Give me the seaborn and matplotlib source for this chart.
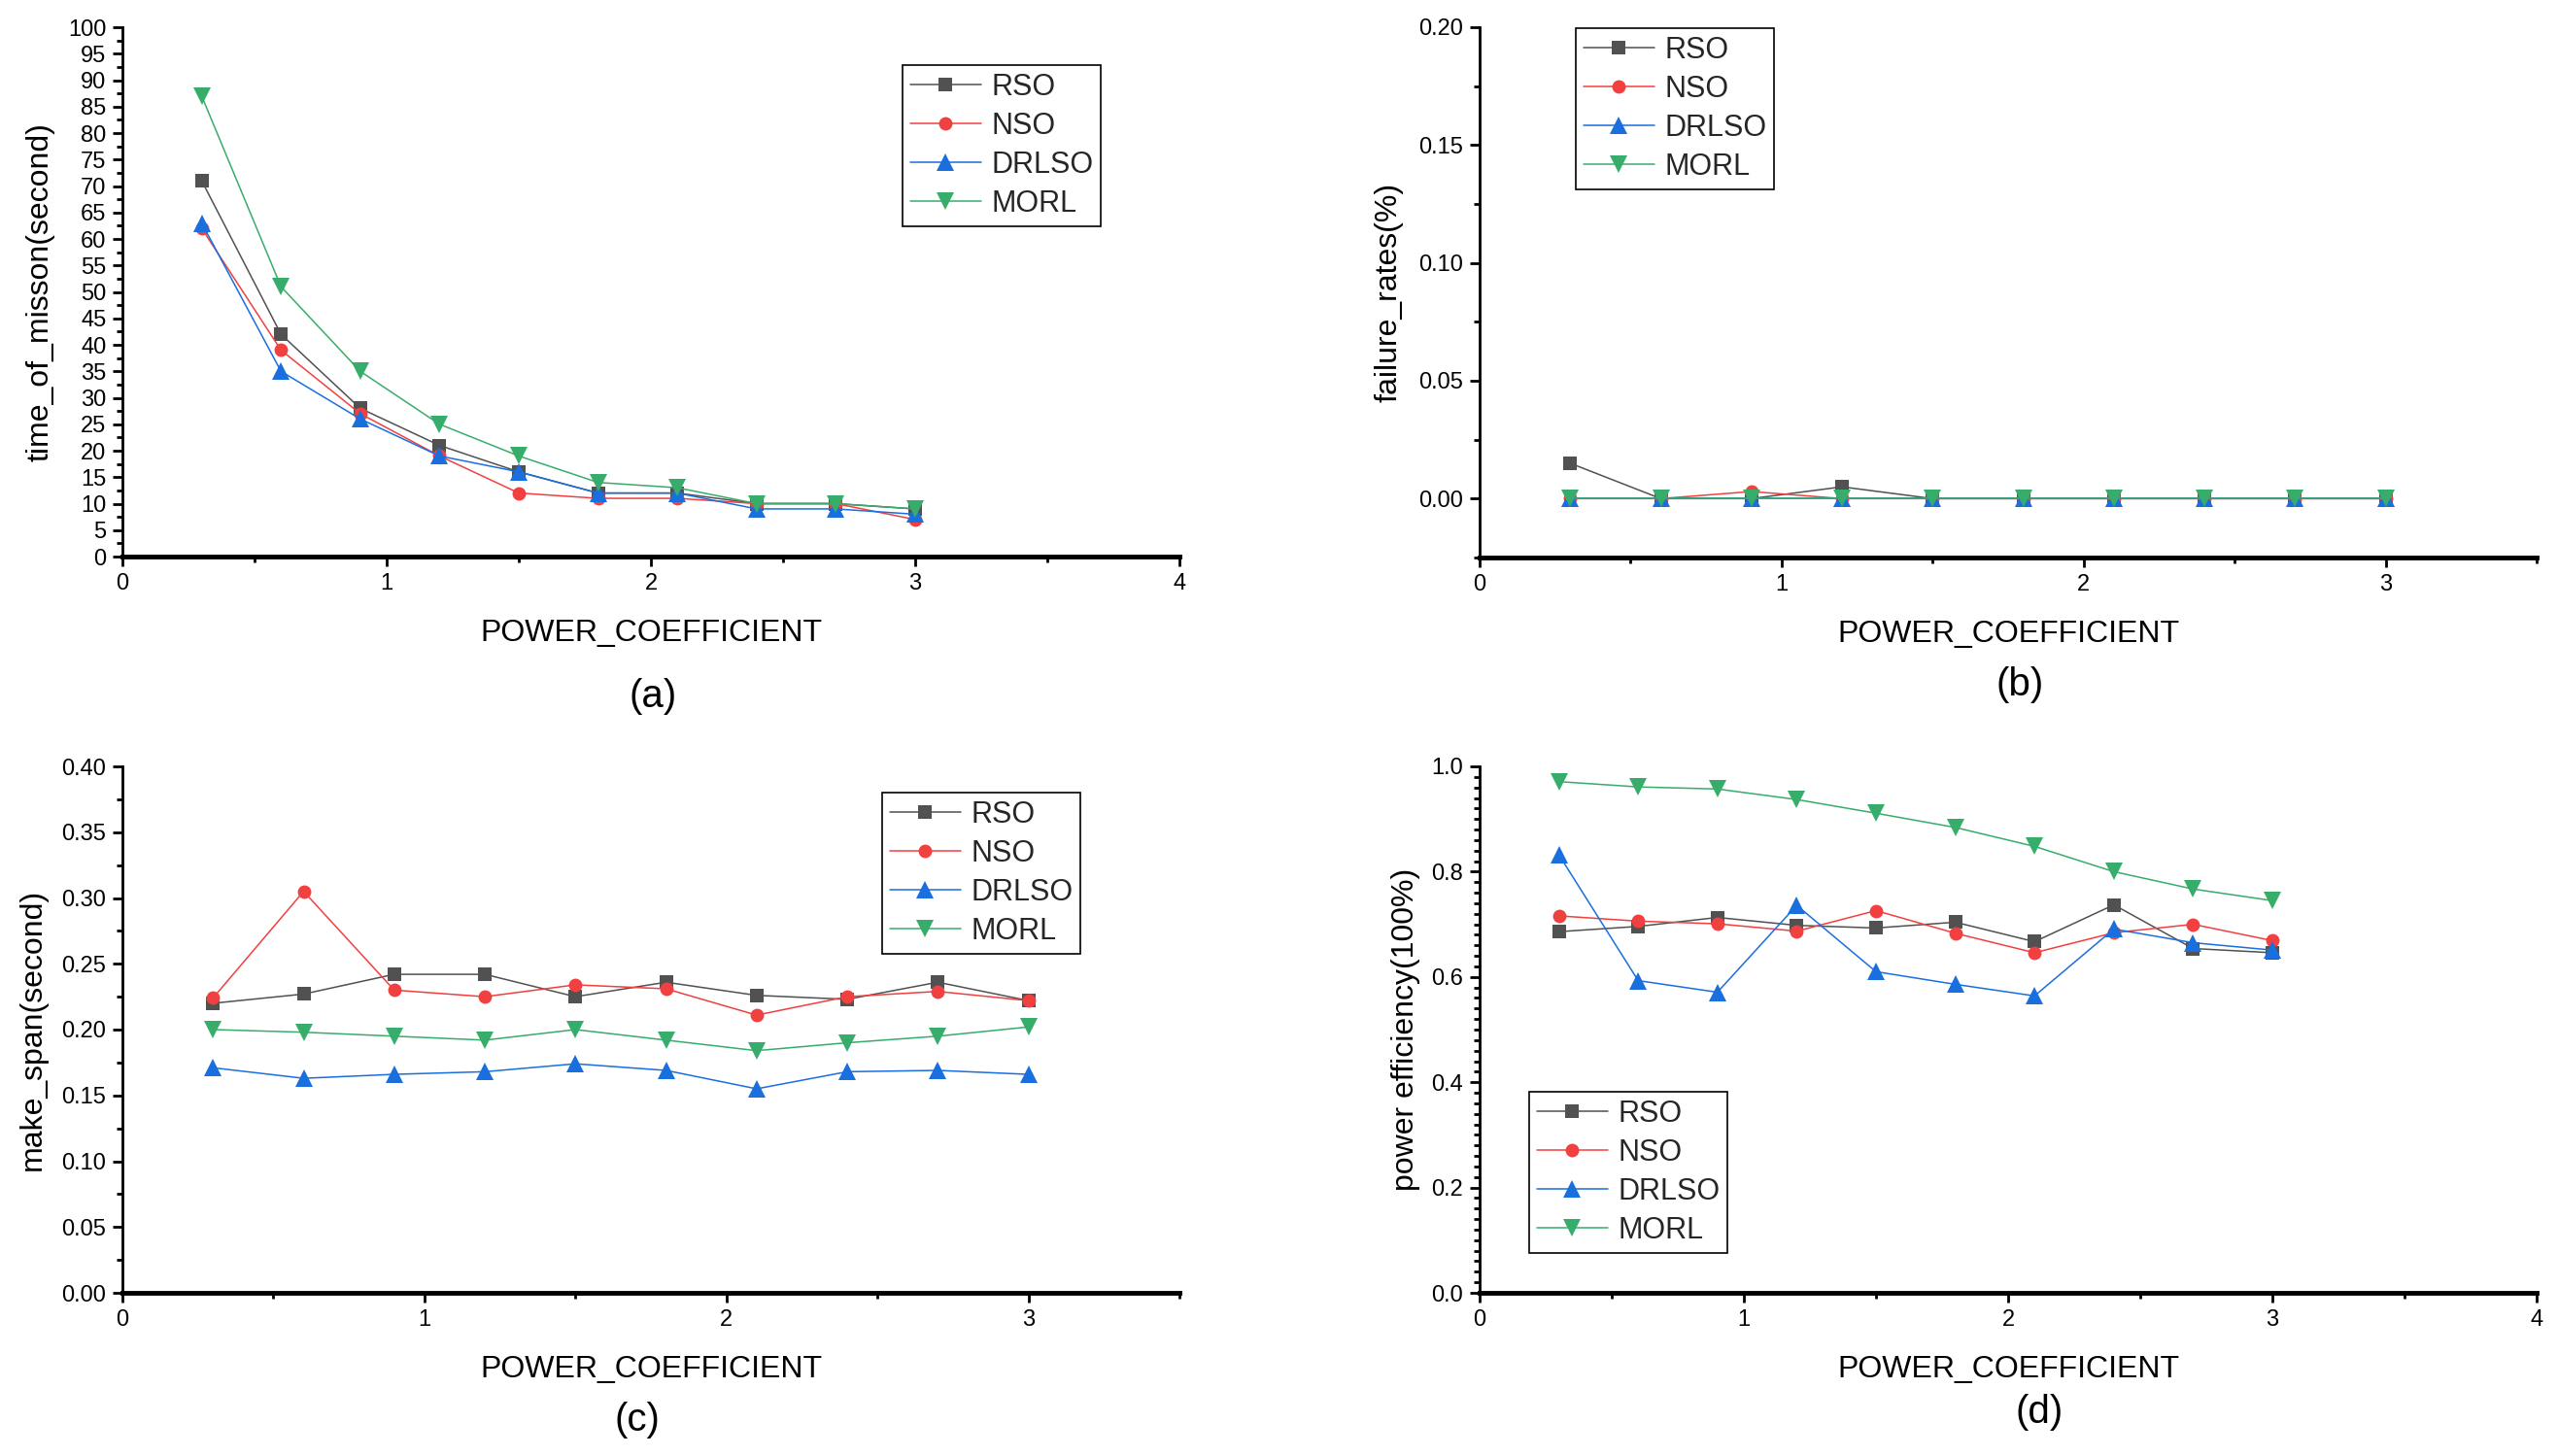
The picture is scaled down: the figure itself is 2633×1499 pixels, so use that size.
import numpy as np
import pandas as pd
import matplotlib
matplotlib.use("Agg")
import matplotlib.pyplot as plt
from matplotlib.ticker import MultipleLocator, FormatStrFormatter
import seaborn as sns

# ---------------- data ----------------
power_coef = [0.3, 0.6, 0.9, 1.2, 1.5, 1.8, 2.1, 2.4, 2.7, 3.0]
methods = ["RSO", "NSO", "DRLSO", "MORL"]

mission_rso = [71, 42, 28, 21, 16, 12, 12, 10, 10, 9]
mission_nso = [62, 39, 27, 19, 12, 11, 11, 10, 10, 7]
mission_drlso = [63, 35, 26, 19, 16, 12, 12, 9, 9, 8]
mission_morl = [87, 51, 35, 25, 19, 14, 13, 10, 10, 9]

failure_rso = [0.015, 0.0, 0.0, 0.005, 0.0, 0.0, 0.0, 0.0, 0.0, 0.0]
failure_nso = [0.0, 0.0, 0.003, 0.0, 0.0, 0.0, 0.0, 0.0, 0.0, 0.0]
failure_drlso = [0.0, 0.0, 0.0, 0.0, 0.0, 0.0, 0.0, 0.0, 0.0, 0.0]
failure_morl = [0.0, 0.0, 0.0, 0.0, 0.0, 0.0, 0.0, 0.0, 0.0, 0.0]

makespan_rso = [0.220, 0.227, 0.242, 0.242, 0.225, 0.236, 0.226, 0.223, 0.236, 0.222]
makespan_nso = [0.224, 0.305, 0.230, 0.225, 0.234, 0.231, 0.211, 0.225, 0.229, 0.222]
makespan_drlso = [0.171, 0.163, 0.166, 0.168, 0.174, 0.169, 0.155, 0.168, 0.169, 0.166]
makespan_morl = [0.200, 0.198, 0.195, 0.192, 0.200, 0.192, 0.184, 0.190, 0.195, 0.202]

eff_rso = [0.686, 0.696, 0.713, 0.698, 0.693, 0.704, 0.667, 0.737, 0.654, 0.646]
eff_nso = [0.716, 0.706, 0.701, 0.687, 0.726, 0.683, 0.646, 0.684, 0.700, 0.669]
eff_drlso = [0.832, 0.593, 0.571, 0.736, 0.610, 0.586, 0.564, 0.691, 0.665, 0.651]
eff_morl = [0.971, 0.961, 0.957, 0.937, 0.911, 0.884, 0.848, 0.800, 0.767, 0.745]

colors = {"RSO": "#515151", "NSO": "#F14040", "DRLSO": "#1A6FDF", "MORL": "#37AD6B"}
markers = {"RSO": "s", "NSO": "o", "DRLSO": "^", "MORL": "v"}
msizes = {"RSO": 9.5, "NSO": 10, "DRLSO": 12.5, "MORL": 12.5}

# ---------------- style ----------------
sns.set_theme(style="ticks")
plt.rcParams["font.family"] = ["Liberation Sans", "DejaVu Sans"]
plt.rcParams["axes.linewidth"] = 2.0

W, H = 2633, 1499
fig = plt.figure(figsize=(W / 100, H / 100), dpi=100)


def px_axes(l, t, r, b):
    return fig.add_axes([l / W, 1 - b / H, (r - l) / W, (b - t) / H])


panels = [
    dict(box=(126, 28, 1214, 573), data=[mission_rso, mission_nso, mission_drlso, mission_morl],
         ylabel="time_of_misson(second)", ylim=(0, 100), ymaj=5, ymin=2.5, fmt="%d",
         xlim=(0, 4), leg=(929, 67), tag="(a)", tagpos=(672, 717), ylx=-0.064),
    dict(box=(1523, 28, 2611, 574), data=[failure_rso, failure_nso, failure_drlso, failure_morl],
         ylabel="failure_rates(%)", ylim=(-0.025, 0.20), ymaj=0.05, ymin=0.025, fmt="%.2f",
         xlim=(0, 3.5), leg=(1622, 29), tag="(b)", tagpos=(2079, 705), ylx=-0.072),
    dict(box=(126, 789, 1214, 1331), data=[makespan_rso, makespan_nso, makespan_drlso, makespan_morl],
         ylabel="make_span(second)", ylim=(0, 0.40), ymaj=0.05, ymin=0.025, fmt="%.2f",
         xlim=(0, 3.5), leg=(908, 816), tag="(c)", tagpos=(656, 1462), ylx=-0.071),
    dict(box=(1523, 789, 2611, 1331), data=[eff_rso, eff_nso, eff_drlso, eff_morl],
         ylabel="power efficiency(100%)", ylim=(0, 1.0), ymaj=0.2, ymin=0.02, fmt="%.1f",
         xlim=(0, 4), leg=(1574, 1124), tag="(d)", tagpos=(2099, 1454), ylx=-0.056),
]

for p in panels:
    ax = px_axes(*p["box"])
    for m, vals in zip(methods, p["data"]):
        sns.lineplot(x=power_coef, y=vals, ax=ax, color=colors[m], marker=markers[m],
                     markersize=msizes[m], markeredgewidth=0, linewidth=1.1, label=m,
                     clip_on=False)
    ax.set_xlim(*p["xlim"])
    ax.set_ylim(*p["ylim"])
    ax.xaxis.set_major_locator(MultipleLocator(1))
    ax.xaxis.set_minor_locator(MultipleLocator(0.5))
    ax.yaxis.set_major_locator(MultipleLocator(p["ymaj"]))
    ax.yaxis.set_minor_locator(MultipleLocator(p["ymin"]))
    ax.yaxis.set_major_formatter(FormatStrFormatter(p["fmt"]))
    ax.xaxis.set_major_formatter(FormatStrFormatter("%d"))
    for s in ["top", "right"]:
        ax.spines[s].set_visible(False)
    ax.spines["left"].set_linewidth(2.0)
    ax.spines["bottom"].set_linewidth(3.5)
    ax.spines["left"].set_color("black")
    ax.spines["bottom"].set_color("black")
    ax.tick_params(axis="both", which="major", direction="out", length=7, width=2.0,
                   labelsize=17, color="black", labelcolor="black", pad=5)
    ax.tick_params(axis="both", which="minor", direction="out", length=4, width=2.0,
                   color="black")
    ax.set_xlabel("POWER_COEFFICIENT", fontsize=23, labelpad=18, color="black")
    ax.set_ylabel(p["ylabel"], fontsize=23, color="black")
    ax.yaxis.set_label_coords(p["ylx"], 0.5)
    ax.grid(False)
    lx, ly = p["leg"]
    leg = ax.legend(loc="upper left", bbox_to_anchor=(lx / W, 1 - ly / H),
                    bbox_transform=fig.transFigure, borderaxespad=0, fontsize=22,
                    frameon=True, fancybox=False, framealpha=1, edgecolor="black",
                    handlelength=2.4, handletextpad=0.35, labelspacing=0.33,
                    borderpad=0.25)
    leg.get_frame().set_linewidth(1.2)
    fig.text(p["tagpos"][0] / W, 1 - p["tagpos"][1] / H, p["tag"], fontsize=29,
             ha="center", va="center", color="black")

fig.savefig("out.png", dpi=100)
